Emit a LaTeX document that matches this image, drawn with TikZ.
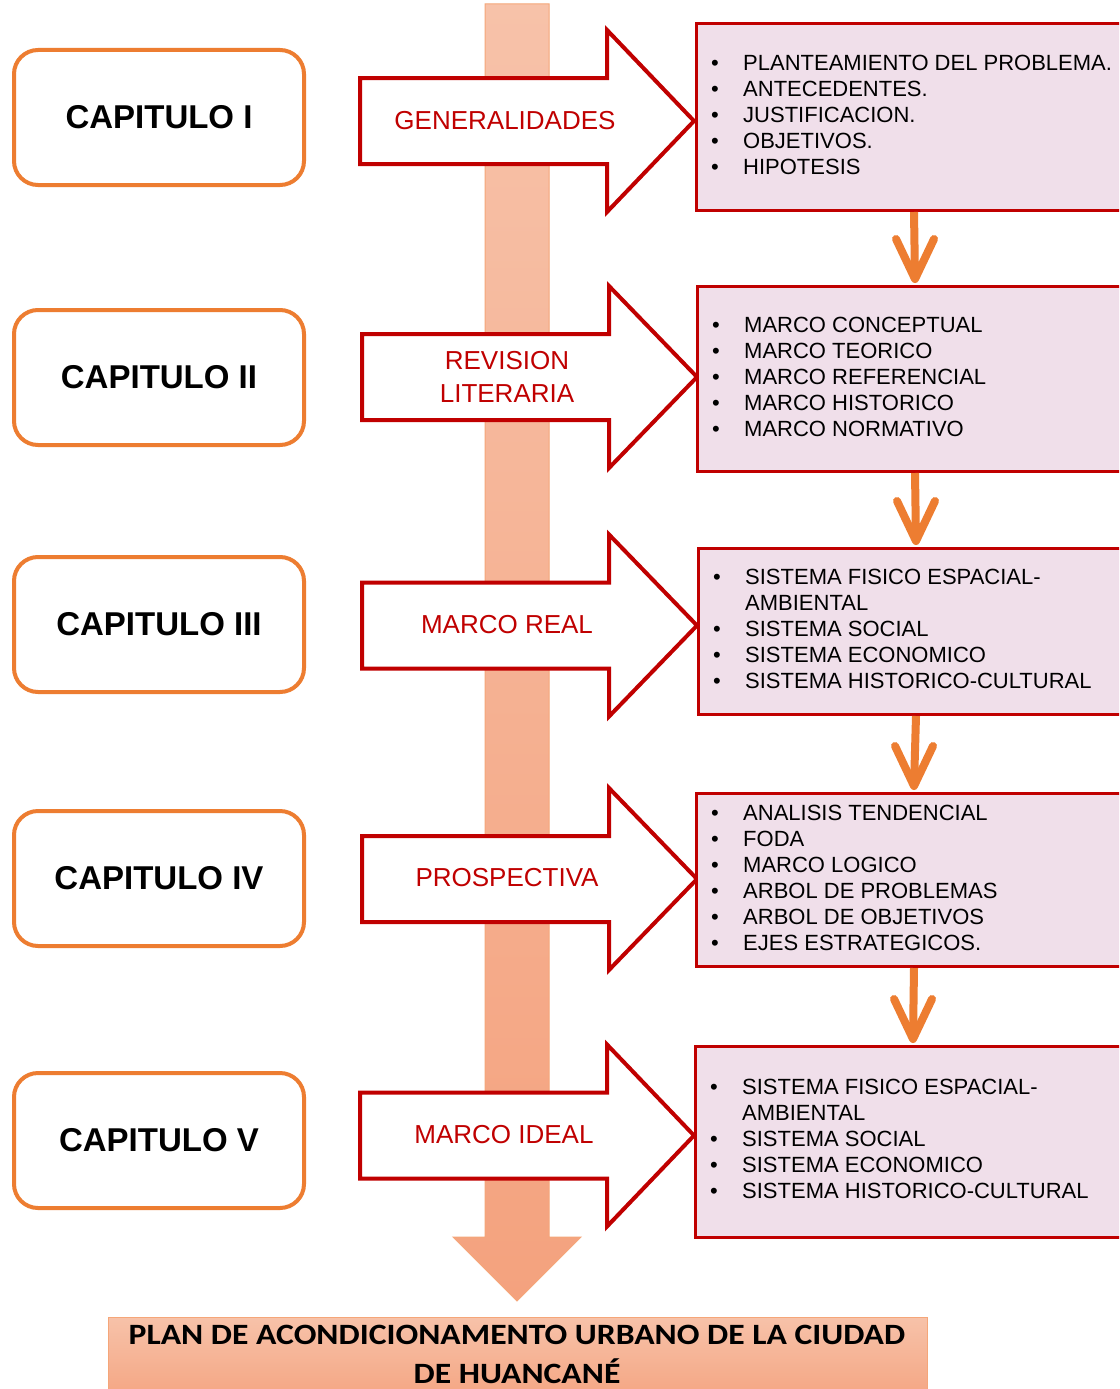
\documentclass[tikz,border=0pt]{standalone}
\usepackage{fontspec}
\setmainfont{Liberation Sans}
\newfontfamily\calibri{Carlito}
\usetikzlibrary{calc}
\definecolor{corange}{HTML}{ED7D31}
\definecolor{cred}{HTML}{C00000}
\definecolor{cpink}{HTML}{F0DFEA}
\definecolor{cpeachA}{HTML}{F7C2A9}
\definecolor{cpeachB}{HTML}{F4A27E}
\definecolor{cpeachL}{HTML}{F5A679}
\newcommand\bul{\makebox[32pt][l]{•}}
\newcommand\cont{\hspace*{32pt}}
\newcommand\wide[1]{\scalebox{1.14}[1]{#1}}
\newcommand\blockarrow[4]{%
  \draw[arrbody] (#1,#2-43) -- (#3,#2-43) -- (#3,#2-91) -- (#4,#2) -- (#3,#2+91) -- (#3,#2+43) -- (#1,#2+43) -- cycle;}
\newcommand\downconn[2]{%
  \coordinate (tip#2) at ($(#2.north)+(0,-6)$);
  \draw[downshaft] (#1.south) -- (tip#2);
  \draw[downarr] ($(tip#2)+(-19,-40)$) -- (tip#2) -- ($(tip#2)+(19,-40)$);}
\begin{document}
\begin{tikzpicture}[x=1pt,y=-1pt,
  capbox/.style={draw=corange, line width=4pt, rounded corners=24pt, fill=white,
    minimum width=290pt, minimum height=135pt, inner sep=0,
    font=\fontsize{33}{36}\selectfont\bfseries},
  arrbody/.style={draw=cred, line width=4pt, fill=white, line join=miter},
  arrtext/.style={text=cred, font=\fontsize{26}{33}\selectfont, align=center, inner sep=0},
  infobox/.style={draw=cred, line width=3pt, fill=cpink, minimum width=435pt, inner sep=0, anchor=north west},
  infotext/.style={font=\fontsize{22}{26}\selectfont, align=left, inner sep=0, anchor=north west},
  downshaft/.style={draw=corange, line width=8pt},
  downarr/.style={draw=corange, line width=8pt, line cap=round, line join=round},
]
\clip (0,0) rectangle (1119,1389);
\fill[white] (0,0) rectangle (1119,1389);

% big vertical arrow
\path[top color=cpeachA, bottom color=cpeachB, draw=cpeachL, line width=1pt]
  (485,4) -- (549,4) -- (549,1237) -- (581,1237) -- (517,1301) -- (453,1237) -- (485,1237) -- cycle;

% chapter boxes
\node[capbox] (c1) at (159,117.5) {CAPITULO I};
\node[capbox] (c2) at (159,377.5) {CAPITULO II};
\node[capbox] (c3) at (159,624.5) {CAPITULO III};
\node[capbox] (c4) at (159,878.5) {CAPITULO IV};
\node[capbox] (c5) at (159,1140.5) {CAPITULO V};

% block arrows
\blockarrow{360}{121}{607}{694}
\blockarrow{362}{377}{609}{697}
\blockarrow{362}{625.5}{609}{697}
\blockarrow{362}{879}{609}{697}
\blockarrow{360}{1135.5}{607}{694}
\node[arrtext] (a1) at (505,121) {GENERALIDADES};
\node[arrtext] (a2) at (507,377) {REVISION\\LITERARIA};
\node[arrtext] (a3) at (507,625) {MARCO REAL};
\node[arrtext] (a4) at (507,878) {PROSPECTIVA};
\node[arrtext] (a5) at (504,1135) {MARCO IDEAL};

% right boxes
\node[infobox, minimum height=187pt] (r1) at (695,22) {};
\node[infobox, minimum height=185pt] (r2) at (696,285) {};
\node[infobox, minimum height=166pt] (r3) at (697,547) {};
\node[infobox, minimum height=173pt] (r4) at (695,792) {};
\node[infobox, minimum height=191pt] (r5) at (694,1045) {};

\node[infotext] (t1) at (711,55) {\bul PLANTEAMIENTO DEL PROBLEMA.\\ \bul ANTECEDENTES.\\ \bul JUSTIFICACION.\\ \bul OBJETIVOS.\\ \bul HIPOTESIS};
\node[infotext] (t2) at (712,317) {\bul MARCO CONCEPTUAL\\ \bul MARCO TEORICO\\ \bul MARCO REFERENCIAL\\ \bul MARCO HISTORICO\\ \bul MARCO NORMATIVO};
\node[infotext] (t3) at (713,569) {\bul SISTEMA FISICO ESPACIAL-\\ \cont AMBIENTAL\\ \bul SISTEMA SOCIAL\\ \bul SISTEMA ECONOMICO\\ \bul SISTEMA HISTORICO-CULTURAL};
\node[infotext] (t4) at (711,805) {\bul ANALISIS TENDENCIAL\\ \bul FODA\\ \bul MARCO LOGICO\\ \bul ARBOL DE PROBLEMAS\\ \bul ARBOL DE OBJETIVOS\\ \bul EJES ESTRATEGICOS.};
\node[infotext] (t5) at (710,1079) {\bul SISTEMA FISICO ESPACIAL-\\ \cont AMBIENTAL\\ \bul SISTEMA SOCIAL\\ \bul SISTEMA ECONOMICO\\ \bul SISTEMA HISTORICO-CULTURAL};

% orange down connectors
\downconn{r1}{r2}
\downconn{r2}{r3}
\downconn{r3}{r4}
\downconn{r4}{r5}

% final box
\node[anchor=north west, minimum width=819pt, minimum height=90pt, inner sep=0,
  top color=cpeachA, bottom color=cpeachB, draw=cpeachL, line width=1pt] (planbox) at (108,1317) {};
\node[font=\calibri\bfseries\fontsize{29.5}{39}\selectfont, align=center, inner sep=0] (plan) at (517,1354)
  {\wide{PLAN DE ACONDICIONAMENTO URBANO DE LA CIUDAD}\\\wide{DE HUANCANÉ}};
\end{tikzpicture}
\end{document}
